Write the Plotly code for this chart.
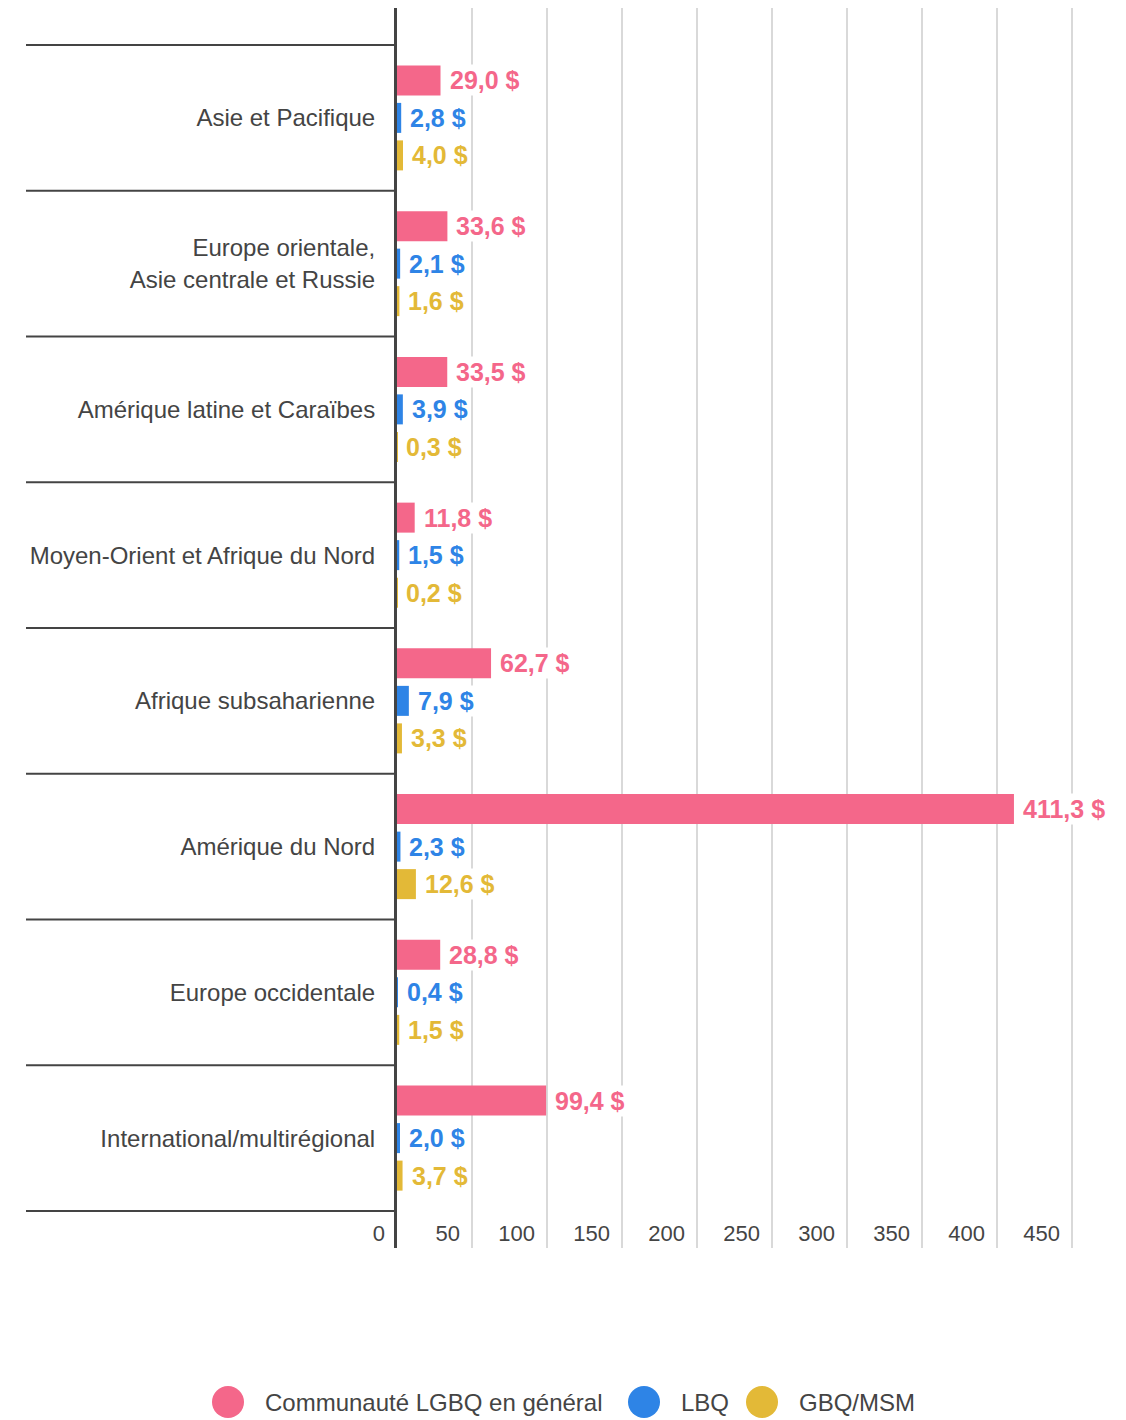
import plotly.graph_objects as go

categories = ["Asie et Pacifique",
              "Europe orientale,<br>Asie centrale et Russie",
              "Amérique latine et Caraïbes",
              "Moyen-Orient et Afrique du Nord",
              "Afrique subsaharienne",
              "Amérique du Nord",
              "Europe occidentale",
              "International/multirégional"]
series_names = ["Communauté LGBQ en général", "LBQ", "GBQ/MSM"]
general = [29.0, 33.6, 33.5, 11.8, 62.7, 411.3, 28.8, 99.4]
lbq = [2.8, 2.1, 3.9, 1.5, 7.9, 2.3, 0.4, 2.0]
gbq = [4.0, 1.6, 0.3, 0.2, 3.3, 12.6, 1.5, 3.7]
x_ticks = [0, 50, 100, 150, 200, 250, 300, 350, 400, 450]

colors = ["#F4678A", "#2E84E6", "#E3B937"]
series = [general, lbq, gbq]

# page has an 8px body margin; figure is sized to fit the window
OFF = 8
W, H = 1126 - OFF, 1420 - OFF
PL, PR, PT, PB = 397, 1095, 8, 1248          # plot area in page pixels
L, T = PL - OFF, PT - OFF
R, B = W - (PR - OFF), H - (PB - OFF)
pw, ph = PR - PL, PB - PT

FONT = "Liberation Sans, Arial, Helvetica, sans-serif"

def fmt(v):
    return f"{v:.1f}".replace(".", ",") + " $"

fig = go.Figure()
for name, vals, col in zip(series_names, series, colors):
    fig.add_trace(go.Bar(y=categories, x=vals, orientation="h", name=name,
                         marker=dict(color=col, line=dict(width=0)),
                         showlegend=False, hoverinfo="skip"))

slot = ph / (len(categories) + 0.508) * (1 - 0.228) / 3
annotations = []
for i, (vals, col) in enumerate(zip(series, colors)):
    for c, v in zip(categories, vals):
        annotations.append(dict(x=v, y=c, xref="x", yref="y", text=fmt(v),
                                showarrow=False, xanchor="left", yanchor="middle",
                                xshift=7, yshift=(1 - i) * slot,
                                bgcolor="white", borderpad=1,
                                font=dict(family=FONT, size=25,
                                          color=col, weight="bold")))

shapes = []
x_left = (26 - PL) / pw
for k in range(len(categories) + 1):
    shapes.append(dict(type="line", xref="paper", yref="y", x0=x_left, x1=0,
                       y0=k - 0.5, y1=k - 0.5, line=dict(color="#444444", width=2)))

# legend (page pixels)
leg_y = (PB - 1402) / ph
leg_circ = [228, 644, 762]
leg_text = [263, 679, 797]
for name, col, cx, tx in zip(series_names, colors, leg_circ, leg_text):
    xa = (cx - PL) / pw
    shapes.append(dict(type="circle", xref="paper", yref="paper",
                       xsizemode="pixel", ysizemode="pixel",
                       xanchor=xa, yanchor=leg_y, x0=-16, x1=16, y0=-16, y1=16,
                       fillcolor=col, line=dict(width=0)))
    annotations.append(dict(x=(tx - PL) / pw, y=leg_y, xref="paper", yref="paper",
                            text=name, showarrow=False, xanchor="left", yanchor="middle",
                            font=dict(family=FONT, size=24, color="#444444")))

fig.update_layout(
    width=W, height=H,
    margin=dict(l=L, r=R, t=T, b=B, autoexpand=False),
    barmode="group", bargap=0.228, bargroupgap=0.2,
    plot_bgcolor="white", paper_bgcolor="white",
    font=dict(family=FONT, size=22, color="#444444"),
    shapes=shapes, annotations=annotations,
    showlegend=False,
    xaxis=dict(range=[0, (PR - PL) / 1.5], tickvals=x_ticks, showgrid=True,
               gridcolor="#D9D9D9", gridwidth=2, zeroline=False, showline=False,
               ticks="", ticklabelposition="inside left", ticklabeloverflow="allow",
               ticklabelshift=-12, ticklabelstandoff=-3,
               tickfont=dict(size=22, color="#444444")),
    yaxis=dict(categoryorder="array", categoryarray=categories,
               range=[len(categories) - 1 + 0.754, -0.754], showgrid=False,
               zeroline=False, showline=True, linecolor="#444444", linewidth=3,
               ticks="", ticklabelstandoff=14,
               tickfont=dict(size=24, color="#444444")),
)

fig.write_html("out.html")
